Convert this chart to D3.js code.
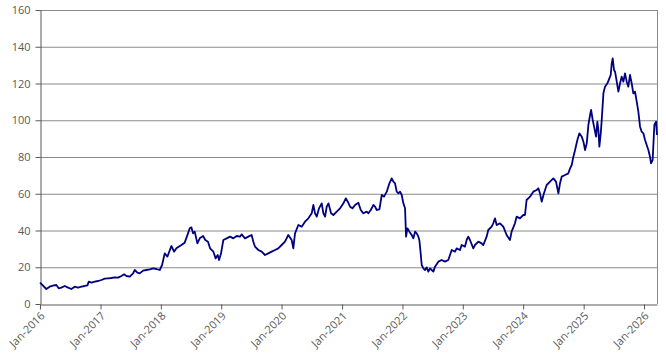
<!DOCTYPE html>
<html>
<head>
<meta charset="utf-8">
<script src="https://cdn.jsdelivr.net/npm/d3@7"></script>
<style>
  body { margin: 0; background: #fff; }
  text { font-family: "Open Sans", "DejaVu Sans", sans-serif; }
</style>
</head>
<body>
<div id="chart"></div>
<script>
// time as decimal years
var times = [
  2016.000,2016.105,2016.160,2016.215,2016.270,2016.309,2016.353,2016.408,2016.464,2016.519,2016.574,2016.629,2016.684,2016.740,2016.784,2016.806,2016.850,2016.905,2016.960,
  2017.015,2017.071,2017.126,2017.181,2017.236,2017.291,2017.347,2017.391,2017.429,2017.485,2017.540,2017.567,2017.611,2017.650,2017.705,2017.760,2017.816,2017.871,2017.926,2017.981,
  2018.020,2018.064,2018.108,2018.174,2018.219,2018.257,2018.340,2018.395,2018.450,2018.478,2018.505,2018.533,2018.561,2018.605,2018.644,2018.699,2018.737,2018.781,2018.815,2018.870,2018.908,2018.942,2018.964,2018.997,
  2019.035,2019.091,2019.146,2019.201,2019.256,2019.311,2019.339,2019.394,2019.449,2019.504,2019.532,2019.560,2019.615,2019.670,2019.725,2019.780,2019.836,2019.891,2019.946,
  2020.001,2020.056,2020.111,2020.167,2020.194,2020.222,2020.277,2020.332,2020.387,2020.443,2020.498,2020.525,2020.553,2020.581,2020.619,2020.663,2020.691,2020.719,2020.746,2020.774,2020.818,2020.856,2020.912,2020.967,
  2021.022,2021.061,2021.094,2021.132,2021.171,2021.215,2021.270,2021.309,2021.353,2021.408,2021.436,2021.475,2021.519,2021.546,2021.574,2021.618,2021.657,2021.695,2021.740,2021.784,2021.822,2021.850,2021.877,2021.905,2021.933,2021.960,2021.988,
  2022.015,2022.043,2022.060,2022.082,2022.115,2022.153,2022.181,2022.209,2022.236,2022.264,2022.280,2022.302,2022.319,2022.347,2022.374,2022.402,2022.429,2022.457,2022.485,2022.512,2022.540,2022.595,2022.650,2022.705,2022.760,2022.788,2022.816,2022.871,2022.898,2022.954,2022.981,
  2023.036,2023.064,2023.091,2023.119,2023.174,2023.202,2023.257,2023.312,2023.340,2023.395,2023.422,2023.478,2023.505,2023.533,2023.561,2023.616,2023.671,2023.726,2023.781,2023.809,2023.864,2023.892,2023.947,
  2024.002,2024.030,2024.057,2024.085,2024.113,2024.168,2024.223,2024.251,2024.278,2024.306,2024.344,2024.389,2024.444,2024.499,2024.543,2024.582,2024.609,2024.637,2024.692,2024.747,2024.775,2024.803,2024.830,2024.858,2024.896,2024.929,2024.968,2024.996,
  2025.023,2025.051,2025.078,2025.106,2025.123,2025.150,2025.172,2025.205,2025.227,2025.244,2025.260,2025.283,2025.299,2025.327,2025.354,2025.393,2025.426,2025.448,2025.465,2025.481,2025.503,2025.520,2025.548,2025.575,2025.603,2025.630,2025.658,2025.685,2025.713,2025.740,2025.768,2025.796,2025.823,2025.851,2025.879,2025.906,2025.934,2025.961,2025.989,
  2026.017,2026.044,2026.072,2026.099,2026.116,2026.143,2026.171,2026.199,2026.215
];
var values = [
  11.61,8.16,9.43,9.98,10.34,8.53,8.89,9.80,8.89,8.16,9.43,8.89,9.43,9.80,10.16,12.15,11.61,12.15,12.52,
  13.06,13.79,13.97,14.15,14.51,14.33,15.24,16.15,15.24,14.87,16.69,18.50,17.05,16.69,18.14,18.50,18.87,19.41,19.05,18.50,
  21.22,27.57,25.76,31.56,28.48,30.29,32.11,33.38,38.46,41.18,41.72,38.46,39.37,33.02,35.74,37.01,34.83,33.92,30.29,28.48,24.85,26.67,23.95,27.57,
  34.83,35.74,36.64,35.74,37.01,36.64,37.91,35.74,36.64,37.55,33.92,31.20,29.39,28.48,26.67,27.57,28.48,29.39,30.29,
  32.11,33.92,37.55,34.83,30.29,38.46,42.99,42.08,44.81,46.62,49.35,53.88,49.35,47.53,52.07,54.79,49.35,47.53,52.97,54.79,49.35,48.44,50.25,52.07,
  54.79,57.51,55.69,52.97,52.07,53.88,55.15,51.16,49.35,50.25,49.35,51.16,53.88,52.97,51.16,51.52,59.32,58.41,61.13,65.67,68.39,66.58,65.67,61.13,60.23,61.13,59.32,
  54.79,52.07,36.64,41.18,39.37,37.55,35.74,39.37,38.46,36.64,34.83,27.57,21.22,19.41,18.50,19.96,17.60,19.41,18.50,17.60,20.32,23.04,23.95,23.04,23.95,26.67,29.39,28.48,30.29,29.39,32.11,
  31.20,34.83,36.64,34.83,30.29,32.11,33.92,33.02,32.11,36.64,40.27,42.08,43.90,46.62,42.99,43.90,42.08,37.55,34.83,39.37,43.90,47.53,46.62,
  48.44,48.44,56.60,57.51,58.41,61.13,62.04,62.95,60.23,55.69,60.23,64.76,66.58,68.39,66.58,60.23,65.67,69.30,70.20,71.11,73.83,75.65,80.18,83.81,89.25,92.88,91.07,88.34,
  83.81,87.44,97.41,102.86,105.58,100.14,96.51,91.07,99.23,94.69,85.62,92.88,100.14,114.65,118.28,120.09,122.81,124.63,130.98,133.70,127.35,126.44,121.00,115.56,120.09,123.72,121.00,125.54,121.00,118.28,124.63,120.09,114.65,115.56,110.11,104.67,96.51,93.79,92.88,
  89.25,86.53,83.81,80.18,76.55,78.37,97.41,99.23,92.0
];
var yTicks = [0,20,40,60,80,100,120,140,160];
var xTickYears = [2016,2017,2018,2019,2020,2021,2022,2023,2024,2025,2026];

var margin = {top: 10, right: 9, bottom: 54, left: 40},
    width = 666 - margin.left - margin.right,
    height = 358 - margin.top - margin.bottom;

function toDate(t){
    var yr = Math.floor(t);
    var a = new Date(yr, 0, 1), b = new Date(yr + 1, 0, 1);
    return new Date(+a + (t - yr) * (b - a));
}

var data = times.map(function(t, i){ return {date: toDate(t), value: values[i]}; });

const svg = d3.select('#chart')
    .append('svg')
    .attr('width', 666)
    .attr('height', 358)
    .append('g')
    .attr('transform', 'translate(' + margin.left + ',' + margin.top + ')');

const x = d3.scaleTime()
    .domain([new Date(2016,0,1), toDate(2026.215)])
    .range([0, width]);

const y = d3.scaleLinear()
    .domain([0, 160])
    .range([height, 0]);

// horizontal gridlines
svg.append('g')
    .selectAll('line')
    .data(yTicks.filter(function(d){ return d > 0; }))
    .enter()
    .append('line')
    .attr('x1', 0)
    .attr('x2', width)
    .attr('y1', function(d){ return y(d) + 0.5; })
    .attr('y2', function(d){ return y(d) + 0.5; })
    .attr('stroke', '#8a8a8a')
    .attr('stroke-width', 1);

// right border
svg.append('line')
    .attr('x1', width + 0.5).attr('x2', width + 0.5)
    .attr('y1', 0).attr('y2', height)
    .attr('stroke', '#8a8a8a');

// y axis
svg.append('g')
    .attr('transform', 'translate(0.5,0)')
    .call(d3.axisLeft(y).tickValues(yTicks).tickSize(5).tickPadding(5).tickSizeOuter(0));

// x axis
const xAxis = svg.append('g')
    .attr('transform', 'translate(0,' + (height + 0.5) + ')')
    .call(d3.axisBottom(x)
        .tickValues(xTickYears.map(function(yr){ return new Date(yr,0,1); }))
        .tickFormat(d3.timeFormat('%b-%Y'))
        .tickSize(5)
        .tickSizeOuter(0));

xAxis.selectAll('text')
    .attr('text-anchor', 'end')
    .attr('dx', null)
    .attr('dy', null)
    .attr('y', 0)
    .attr('transform', 'translate(5,12) rotate(-45)');

svg.selectAll('.domain, .tick line')
    .attr('stroke', '#595959');
svg.selectAll('.tick text')
    .attr('fill', '#595959')
    .style('font-size', '11px');

// the line
const line = d3.line()
    .x(function(d){ return x(d.date); })
    .y(function(d){ return y(d.value); });

svg.append('path')
    .datum(data)
    .attr('fill', 'none')
    .attr('stroke', '#000080')
    .attr('stroke-width', 1.8)
    .attr('stroke-linejoin', 'round')
    .attr('d', line);
</script>
</body>
</html>
